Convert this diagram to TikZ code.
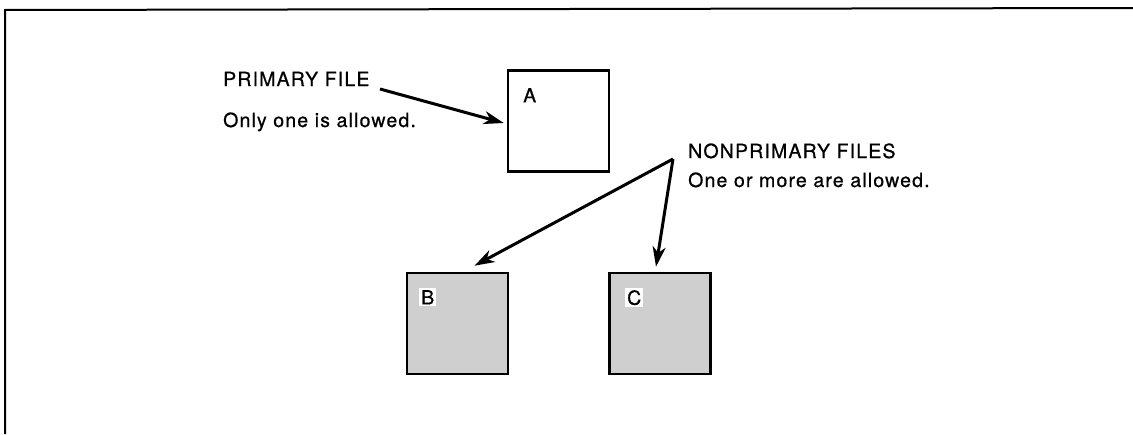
\documentclass[tikz,border=0pt]{standalone}
\usepackage{fontspec}
\newfontfamily\labfont[LetterSpace=6,FakeBold=0.7]{TeX Gyre Heros}
\usetikzlibrary{arrows.meta,calc}
\begin{document}
\begin{tikzpicture}[x=1pt,y=-1pt,
  lbl/.style={font=\labfont\fontsize{19.5}{23}\selectfont,inner sep=0pt,anchor=base west},
  filebox/.style={draw,line width=2.6pt,minimum width=101pt,minimum height=101pt,inner sep=0pt},
  shaded/.style={filebox,fill=black!19},
  letter/.style={font=\labfont\fontsize{19.5}{23}\selectfont,inner sep=2pt,anchor=north west},
  ptr/.style={line width=3pt,-{Stealth[length=20pt,width=13pt,inset=6pt]}}]
\useasboundingbox (0,0) rectangle (1133,434);
\draw[line width=2pt] (5,434) -- (5,10) -- (1133,8);
% boxes
\node[filebox] (A) at (558.5,121) {};
\node[shaded] (B) at (457.5,323.5) {};
\node[shaded] (C) at (660,323.5) {};
\node[letter] (la) at (521,86) {A};
\node[letter,fill=white] (lb) at (419,288) {B};
\node[letter,fill=white] (lc) at (625,288) {C};
% texts
\node[lbl] (pf) at (223,86) {PRIMARY FILE};
\node[lbl] (po) at (223,127) {Only one is allowed.};
\node[lbl] (nf) at (688,158) {NONPRIMARY FILES};
\node[lbl] (no) at (688,187) {One or more are allowed.};
% connectors
\coordinate (pstart) at (380,89);
\coordinate (nstart) at (673,159);
\draw[ptr] (pstart) -- ($(A.west)+(-3,2)$);
\draw[ptr] (nstart) -- ($(B.north)+(17,-6)$);
\draw[ptr] (nstart) -- ($(C.north)+(-4,-5)$);
\end{tikzpicture}
\end{document}
